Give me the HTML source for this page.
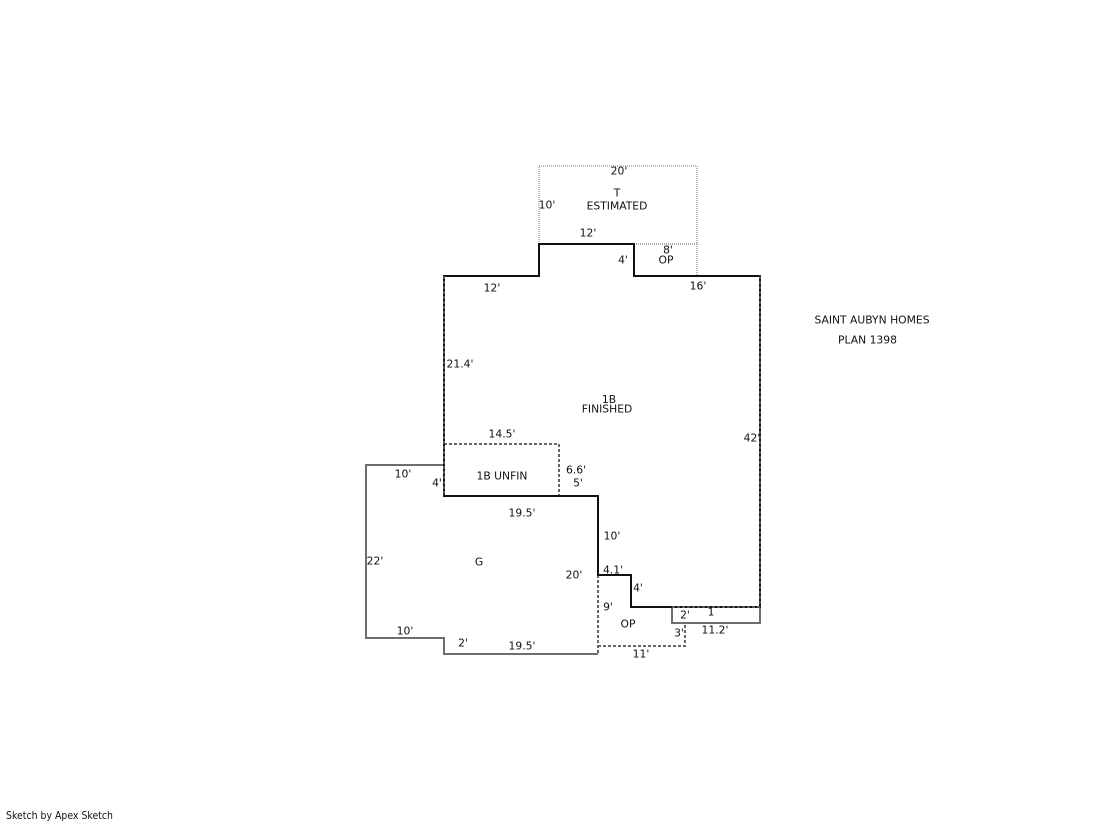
<!DOCTYPE html>
<html>
<head>
<meta charset="utf-8">
<style>
html,body{margin:0;padding:0;background:#fff;width:1119px;height:821px;overflow:hidden}
svg{display:block}
text{font-family:"DejaVu Sans","Liberation Sans",sans-serif;font-size:10.75px;fill:#111;text-anchor:middle}
</style>
</head>
<body>
<svg width="1119" height="821" viewBox="0 0 1119 821" xmlns="http://www.w3.org/2000/svg">
<g fill="none" shape-rendering="crispEdges">
<path d="M539 244V166H697V276" stroke="#bbb" stroke-width="2" stroke-dasharray="1 1"/>
<path d="M634 244H697" stroke="#aaa" stroke-width="2" stroke-dasharray="1 1"/>
<path d="M444 465H366V638H444V654H598" stroke="#6e6e6e" stroke-width="2"/>
<path d="M672 607V623H760V607" stroke="#6e6e6e" stroke-width="2"/>
<path d="M444 444H559V496" stroke="#666" stroke-width="2" stroke-dasharray="3 2"/>
<path d="M598 575V654" stroke="#666" stroke-width="2" stroke-dasharray="3 2"/>
<path d="M598 646H685V623" stroke="#666" stroke-width="2" stroke-dasharray="3 2"/>
<path d="M444 276H539V244H634V276H760V607H631V575H598V496H444Z" stroke="#111" stroke-width="2"/>
<path d="M672 607H760M444 276V496M760 276V607" stroke="#555" stroke-width="2" stroke-dasharray="3 2"/>
</g>
<text x="619" y="174.5">20'</text>
<text x="617" y="196.5">T</text>
<text x="617" y="209.5">ESTIMATED</text>
<text x="547" y="208.5">10'</text>
<text x="588" y="236.5">12'</text>
<text x="668" y="253.5">8'</text>
<text x="666" y="263.5">OP</text>
<text x="623" y="263.5">4'</text>
<text x="698" y="289.5">16'</text>
<text x="492" y="291.5">12'</text>
<text x="460" y="367.5">21.4'</text>
<text x="609" y="403">1B</text>
<text x="607" y="412.5">FINISHED</text>
<text x="752" y="441.5">42'</text>
<text x="502" y="437.5">14.5'</text>
<text x="576" y="473.5">6.6'</text>
<text x="578" y="486.5">5'</text>
<text x="403" y="477.5">10'</text>
<text x="437" y="486.5">4'</text>
<text x="502" y="479.5">1B UNFIN</text>
<text x="522" y="516.5">19.5'</text>
<text x="612" y="539.5">10'</text>
<text x="375" y="564.5">22'</text>
<text x="479" y="565.5">G</text>
<text x="574" y="578.5">20'</text>
<text x="613" y="573.5">4.1'</text>
<text x="638" y="591.5">4'</text>
<text x="608" y="610.5">9'</text>
<text x="685" y="618.5">2'</text>
<text x="711" y="615.5">1</text>
<text x="628" y="627.5">OP</text>
<text x="715" y="633.5">11.2'</text>
<text x="679" y="636.5">3'</text>
<text x="405" y="634.5">10'</text>
<text x="463" y="646.5">2'</text>
<text x="522" y="649.5">19.5'</text>
<text x="641" y="657.5">11'</text>
<text x="872" y="323.5">SAINT AUBYN HOMES</text>
<text x="867.5" y="343.5">PLAN 1398</text>
<text x="6" y="819" textLength="107" lengthAdjust="spacingAndGlyphs" style="font-size:11px;text-anchor:start">Sketch by Apex Sketch</text>
</svg>
</body>
</html>
